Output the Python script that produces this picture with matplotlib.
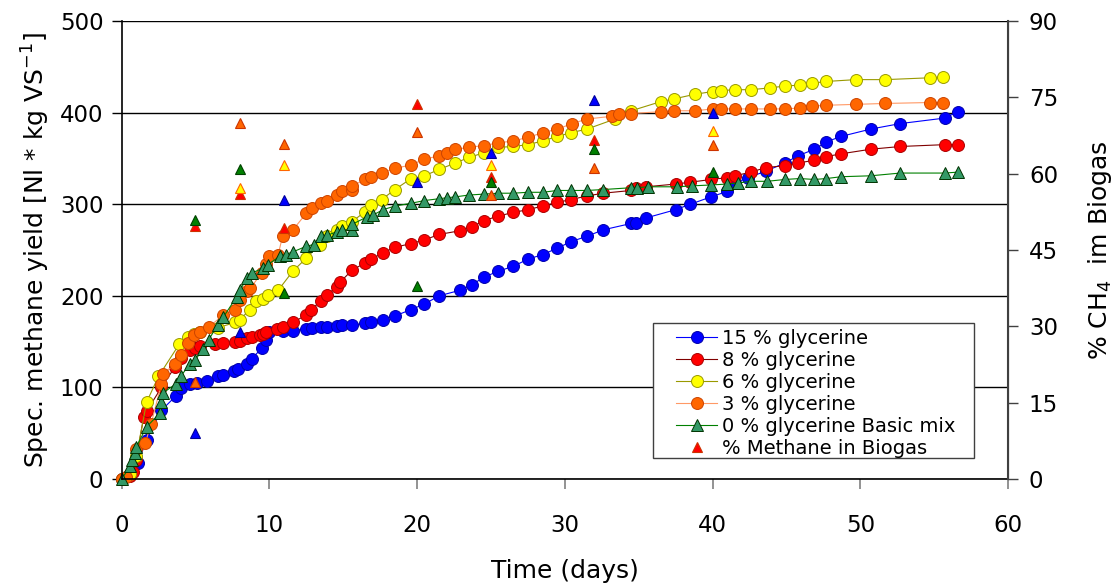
import matplotlib
matplotlib.use('Agg')
import matplotlib.pyplot as plt
from matplotlib.patches import Rectangle

plt.rcParams['font.family'] = ['DejaVu Sans']
plt.rcParams['mathtext.default'] = 'regular'

# Zeit (Tage) und spez. Methanertrag je Ansatz
days_15 = [0, 0.6, 1.1, 1.7, 2.7, 3.7, 4.0, 4.6, 5.1, 5.8, 6.5, 6.9, 7.6, 7.9, 8.5, 8.8, 9.5, 9.8, 10.0,
           10.9, 11.6, 12.5, 12.9, 13.5, 13.9, 14.6, 14.9, 15.6, 16.5, 16.9, 17.7, 18.5, 19.6, 20.5, 21.5,
           22.9, 23.7, 24.5, 25.5, 26.5, 27.5, 28.5, 29.5, 30.4, 31.5, 32.6, 34.5, 34.8, 35.5, 37.5, 38.5,
           39.9, 41.0, 41.5, 42.4, 43.6, 44.9, 45.8, 46.9, 47.7, 48.7, 50.7, 52.7, 55.7, 56.6]
yield_15 = [0, 5, 17, 43, 75, 91, 99, 104, 105, 107, 112, 114, 118, 120, 126, 131, 143, 152, 160,
            162, 162, 164, 165, 166, 166, 167, 168, 168, 170, 171, 174, 178, 185, 191, 200,
            206, 212, 220, 227, 232, 240, 245, 252, 259, 265, 272, 279, 280, 285, 294, 300,
            308, 314, 323, 329, 336, 345, 353, 360, 368, 374, 382, 388, 394, 401]

days_8 = [0, 0.6, 0.8, 1.0, 1.5, 1.7, 2.7, 3.6, 4.0, 4.6, 5.0, 5.3, 6.3, 6.9, 7.7, 8.0, 8.5, 8.8, 9.4,
          9.6, 9.8, 10.5, 10.9, 11.6, 12.5, 12.8, 13.5, 13.9, 14.6, 14.8, 15.6, 16.5, 16.9, 17.7, 18.5,
          19.6, 20.5, 21.5, 22.9, 23.7, 24.5, 25.5, 26.5, 27.5, 28.5, 29.5, 30.4, 31.5, 32.6, 34.5, 34.8,
          35.5, 37.5, 38.5, 39.9, 41.0, 41.5, 42.6, 43.6, 44.9, 45.8, 46.9, 47.7, 48.7, 50.7, 52.7, 55.7, 56.6]
yield_8 = [0, 3, 8, 21, 68, 74, 100, 122, 132, 141, 143, 145, 147, 148, 150, 151, 154, 155, 157,
           158, 161, 164, 166, 171, 179, 185, 194, 201, 210, 215, 228, 236, 240, 247, 253,
           257, 261, 267, 271, 275, 282, 287, 291, 294, 298, 302, 305, 309, 312, 315, 318,
           319, 322, 324, 327, 329, 331, 335, 340, 342, 345, 348, 352, 355, 360, 363, 365, 365]

days_6 = [0, 0.6, 1.0, 1.7, 2.5, 3.9, 4.5, 4.9, 5.3, 6.5, 7.7, 8.0, 8.7, 9.1, 9.6, 9.9, 10.6, 11.6,
          12.5, 13.4, 13.9, 14.6, 14.9, 15.6, 16.5, 16.9, 17.6, 18.5, 19.6, 20.5, 21.5, 22.6, 23.5,
          24.5, 25.5, 26.5, 27.5, 28.5, 29.5, 30.4, 31.5, 33.4, 34.5, 36.5, 37.4, 38.8, 40.0, 40.6,
          41.5, 42.6, 43.9, 44.9, 45.9, 46.7, 47.7, 49.7, 51.7, 54.7, 55.6]
yield_6 = [0, 5, 25, 84, 112, 147, 155, 158, 161, 165, 171, 174, 185, 194, 197, 201, 206, 227,
           241, 256, 265, 272, 276, 281, 292, 299, 305, 316, 328, 331, 338, 345, 351,
           356, 362, 363, 365, 369, 374, 378, 382, 393, 402, 412, 415, 420, 423, 424,
           425, 425, 427, 429, 430, 432, 434, 436, 436, 438, 439]

days_3 = [0, 0.3, 1.0, 1.6, 2.0, 2.7, 2.8, 3.6, 4.0, 4.5, 4.9, 5.3, 5.9, 6.9, 7.7, 8.0, 8.5, 8.7, 9.5,
          9.8, 10.0, 10.6, 10.9, 11.6, 12.5, 12.9, 13.5, 13.9, 14.6, 14.9, 15.6, 15.6, 16.5, 16.9,
          17.6, 18.5, 19.6, 20.5, 21.5, 22.0, 22.6, 23.5, 24.5, 25.5, 26.5, 27.5, 28.5, 29.5, 30.5,
          31.5, 33.2, 33.7, 34.5, 36.5, 37.4, 38.8, 40.0, 40.6, 41.5, 42.6, 43.9, 44.9, 45.9, 46.7,
          47.7, 49.7, 51.7, 54.7, 55.6]
yield_3 = [0, 2, 33, 39, 60, 104, 115, 125, 135, 148, 157, 160, 166, 179, 185, 195, 205, 208, 225,
           235, 243, 245, 265, 272, 290, 296, 301, 304, 310, 314, 316, 320, 327, 330,
           334, 339, 343, 349, 353, 356, 360, 362, 364, 367, 369, 373, 378, 382, 388,
           393, 396, 398, 399, 401, 402, 402, 404, 404, 404, 404, 404, 404, 405, 407,
           408, 409, 410, 411, 411]

days_0 = [0, 0.6, 0.7, 0.9, 1.0, 1.7, 2.6, 2.7, 2.8, 3.7, 4.0, 4.6, 5.0, 5.5, 5.9, 6.5, 6.9, 7.8, 8.0,
          8.5, 8.8, 9.6, 9.9, 10.7, 11.1, 11.6, 12.5, 13.0, 13.5, 13.9, 14.6, 14.9, 15.6, 15.6, 16.6,
          17.0, 17.7, 18.5, 19.6, 20.5, 21.5, 22.0, 22.6, 23.5, 24.5, 25.5, 26.5, 27.5, 28.5, 29.5,
          30.4, 31.5, 32.6, 34.5, 34.9, 35.6, 37.6, 38.6, 39.9, 41.0, 41.7, 42.6, 43.7, 44.9, 45.9,
          46.9, 47.7, 48.7, 50.7, 52.7, 55.7, 56.6]
yield_0 = [0, 14, 21, 28, 35, 57, 72, 84, 94, 104, 112, 125, 130, 142, 152, 168, 177, 199, 206,
           219, 225, 230, 234, 243, 245, 248, 254, 256, 265, 266, 270, 272, 272, 278, 286,
           288, 294, 298, 301, 304, 306, 307, 308, 310, 311, 312, 312, 313, 313, 315,
           315, 315, 316, 318, 318, 319, 319, 320, 321, 322, 323, 325, 325, 327, 328,
           327, 328, 330, 331, 334, 334, 335]

# Methangehalt (% CH4) an den Messtagen
ch4_days_red = [5, 8, 11, 20, 25, 32]
ch4_red = [49.8, 56.1, 49.4, 73.7, 59.4, 66.6]
ch4_days_orange = [5, 8, 11, 20, 25, 32, 40]
ch4_orange = [19.1, 70.0, 65.8, 68.1, 55.8, 61.2, 65.6]
ch4_days_yellow = [8, 11, 25, 40]
ch4_yellow = [57.1, 61.7, 61.7, 68.4]
ch4_days_blue = [5, 8, 11, 20, 25, 32, 40]
ch4_blue = [9.1, 28.9, 54.8, 58.4, 64.1, 74.5, 72.0]
ch4_days_green = [5, 8, 11, 20, 25, 32, 40]
ch4_green = [50.9, 60.9, 36.5, 37.9, 58.4, 64.8, 60.3]

fig = plt.figure(figsize=(11.13, 5.85), dpi=100)
ax = fig.add_axes([0.1092, 0.1812, 0.7965, 0.7829])
ax2 = ax.twinx()

# Grafik: Ertragskurven
series = [
    (days_15, yield_15, '15 % glycerine', 'o', '#0000FF', '#0000AA', '#0000FF'),
    (days_8, yield_8, '8 % glycerine', 'o', '#FF0000', '#AA0000', '#800000'),
    (days_6, yield_6, '6 % glycerine', 'o', '#FFFF00', '#999900', '#999900'),
    (days_3, yield_3, '3 % glycerine', 'o', '#FF6600', '#CC4400', '#FF9966'),
    (days_0, yield_0, '0 % glycerine Basic mix', '^', '#339966', '#003300', '#008000'),
]
handles = []
for d, v, label, m, fc, ec, lc in series:
    ms = 9.2 if m == '^' else 8.6
    h, = ax.plot(d, v, color=lc, lw=0.8, marker=m, ms=ms, mfc=fc, mec=ec, mew=0.7,
                 label=label, clip_on=False)
    handles.append(h)

ax.set_xlim(0, 60)
ax.set_ylim(0, 500)
ax.set_xticks(range(0, 61, 10))
ax.set_yticks(range(0, 501, 100))
ax.yaxis.grid(True, color='black', lw=1)
ax.set_axisbelow(True)
ax.spines['top'].set_visible(False)
ax.spines['left'].set_linewidth(1.2)
ax.spines['bottom'].set_linewidth(1.2)
ax.tick_params(axis='x', direction='out', length=7, width=1.2, color='#808080', labelsize=16.5, pad=18)
ax.tick_params(axis='y', direction='out', length=7, width=1, labelsize=16.5, pad=6)
ax.set_xlabel('Time (days)', fontsize=18, labelpad=16)
ax.set_ylabel('Spec. methane yield [Nl * kg VS$^{-1}$]', fontsize=18, labelpad=6)

# Methangehalt auf der rechten Achse
ch4 = [
    (ch4_days_red, ch4_red, '#FF0000', '#CC3300'),
    (ch4_days_orange, ch4_orange, '#FF6600', '#CC3300'),
    (ch4_days_yellow, ch4_yellow, '#FFFF00', '#FF6600'),
    (ch4_days_blue, ch4_blue, '#0000FF', '#000099'),
    (ch4_days_green, ch4_green, '#008000', '#004000'),
]
for d, v, fc, ec in ch4:
    h2, = ax2.plot(d, v, ls='none', marker='^', ms=7, mfc=fc, mec=ec, mew=0.8)
    if fc == '#FF0000':
        red_handle = h2
handles.append(red_handle)

ax2.set_ylim(0, 90)
ax2.set_yticks(range(0, 91, 15))
for s in ['top', 'left', 'bottom']:
    ax2.spines[s].set_visible(False)
ax2.spines['right'].set_color('#404040')
ax2.spines['right'].set_linewidth(1.5)
ax2.tick_params(axis='y', direction='out', length=7, width=1, color='#404040', labelsize=16.5, pad=8)
ax2.set_ylabel('% CH$_4$  im Biogas', fontsize=18, labelpad=20)

# Legendenrahmen separat, Legende ohne Rahmen darin
ax2.add_patch(Rectangle((0.5996, 0.0459), 0.3621, 0.2947, transform=ax2.transAxes,
                        facecolor='white', edgecolor='#404040', lw=1, zorder=4))
labels = [s[2] for s in series] + ['% Methane in Biogas']
leg = ax2.legend(handles, labels, loc='upper left', bbox_to_anchor=(0.626, 0.327),
                 borderaxespad=0, fontsize=14, labelspacing=0.15, handlelength=2.1,
                 handletextpad=0.25, borderpad=0, frameon=False)
leg.set_zorder(5)

plt.savefig('out.png', dpi=100)
